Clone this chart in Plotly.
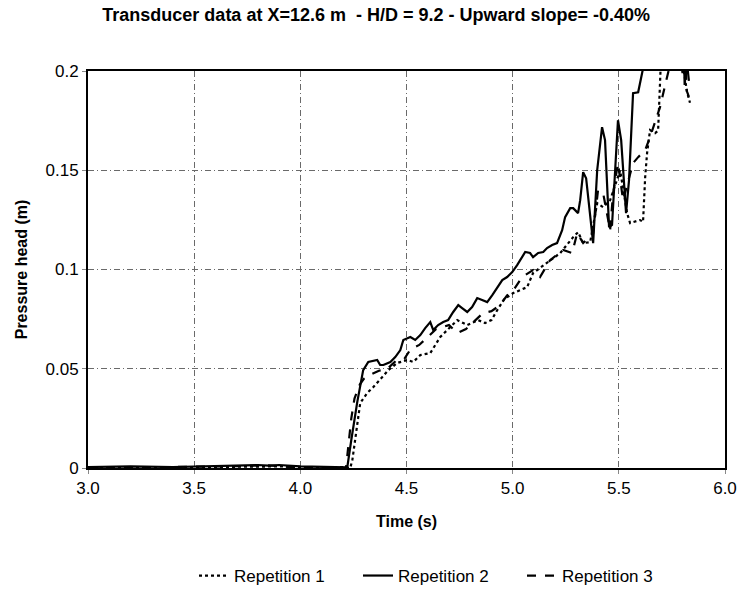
import plotly.graph_objects as go

# ---------------- data ----------------
t_rep1 = [3.00, 3.30, 3.60, 3.80, 3.90, 4.00, 4.10, 4.20, 4.235, 4.245, 4.268, 4.282,
          4.315, 4.344, 4.386, 4.414, 4.456, 4.504, 4.532, 4.565, 4.612, 4.659, 4.692,
          4.739, 4.786, 4.838, 4.870, 4.900, 4.930, 4.960, 5.002, 5.068, 5.096, 5.162,
          5.224, 5.285, 5.308, 5.332, 5.365, 5.398, 5.426, 5.459, 5.506, 5.539, 5.553,
          5.600, 5.614, 5.624, 5.633, 5.647, 5.671, 5.685, 5.700, 5.780, 5.820, 5.835]
h_rep1 = [0.0000, 0.0003, 0.0005, 0.0010, 0.0008, 0.0005, 0.0003, 0.0005, 0.0000, 0.0040,
          0.0227, 0.0327, 0.0378, 0.0408, 0.0458, 0.0493, 0.0529, 0.0544, 0.0534, 0.0569,
          0.0579, 0.0660, 0.0695, 0.0745, 0.0720, 0.0745, 0.0730, 0.0745, 0.0800, 0.0850,
          0.0881, 0.0911, 0.0982, 0.1032, 0.1083, 0.1163, 0.1188, 0.1133, 0.1138, 0.1334,
          0.1314, 0.1349, 0.1500, 0.1284, 0.1234, 0.1249, 0.1240, 0.1465, 0.1586, 0.1702,
          0.1687, 0.1700, 0.2100, 0.2200, 0.1900, 0.1840]

t_rep2 = [3.00, 3.20, 3.40, 3.60, 3.70, 3.80, 3.85, 3.90, 4.00, 4.10, 4.20, 4.221, 4.240,
          4.268, 4.296, 4.320, 4.362, 4.376, 4.391, 4.424, 4.447, 4.471, 4.485, 4.518,
          4.541, 4.565, 4.588, 4.612, 4.626, 4.649, 4.673, 4.696, 4.720, 4.744, 4.762,
          4.786, 4.809, 4.833, 4.856, 4.880, 4.904, 4.927, 4.951, 4.974, 4.998, 5.021,
          5.035, 5.059, 5.082, 5.096, 5.120, 5.144, 5.162, 5.186, 5.209, 5.233, 5.247,
          5.271, 5.285, 5.308, 5.318, 5.332, 5.346, 5.365, 5.379, 5.398, 5.421, 5.435,
          5.454, 5.468, 5.482, 5.496, 5.511, 5.534, 5.548, 5.567, 5.591, 5.614, 5.650,
          5.720, 5.780, 5.800, 5.805, 5.810, 5.820, 5.830]
h_rep2 = [0.0005, 0.0008, 0.0005, 0.0010, 0.0012, 0.0015, 0.0012, 0.0015, 0.0008, 0.0005,
          0.0003, 0.0003, 0.0141, 0.0332, 0.0493, 0.0534, 0.0544, 0.0519, 0.0519, 0.0534,
          0.0559, 0.0594, 0.0645, 0.0660, 0.0645, 0.0670, 0.0705, 0.0735, 0.0695, 0.0720,
          0.0735, 0.0745, 0.0786, 0.0821, 0.0806, 0.0786, 0.0811, 0.0856, 0.0846, 0.0836,
          0.0871, 0.0911, 0.0947, 0.0962, 0.0987, 0.1022, 0.1047, 0.1088, 0.1083, 0.1062,
          0.1083, 0.1088, 0.1108, 0.1123, 0.1133, 0.1198, 0.1264, 0.1309, 0.1309, 0.1284,
          0.1349, 0.1490, 0.1460, 0.1274, 0.1133, 0.1500, 0.1717, 0.1652, 0.1213, 0.1224,
          0.1500, 0.1752, 0.1652, 0.1284, 0.1450, 0.1888, 0.1893, 0.2004, 0.2200, 0.2350,
          0.2150, 0.1990, 0.2150, 0.1930, 0.2050, 0.1950]

t_rep3 = [3.00, 3.50, 3.75, 3.83, 3.95, 4.10, 4.215, 4.225, 4.240, 4.255, 4.280, 4.300,
          4.330, 4.370, 4.410, 4.450, 4.490, 4.520, 4.560, 4.600, 4.640, 4.670, 4.700,
          4.740, 4.780, 4.820, 4.860, 4.900, 4.940, 4.974, 5.000, 5.045, 5.096, 5.129,
          5.176, 5.238, 5.280, 5.304, 5.332, 5.379, 5.402, 5.426, 5.459, 5.473, 5.496,
          5.520, 5.567, 5.591, 5.624, 5.647, 5.694, 5.727, 5.741, 5.780, 5.810, 5.820, 5.830]
h_rep3 = [0.0000, 0.0005, 0.0010, 0.0015, 0.0005, 0.0003, 0.0000, 0.0100, 0.0250, 0.0350,
          0.0420, 0.0450, 0.0470, 0.0490, 0.0500, 0.0540, 0.0550, 0.0600, 0.0620, 0.0660,
          0.0700, 0.0710, 0.0720, 0.0680, 0.0700, 0.0740, 0.0780, 0.0790, 0.0820, 0.0870,
          0.0890, 0.0962, 0.0997, 0.0962, 0.1047, 0.1098, 0.1083, 0.1183, 0.1133, 0.1183,
          0.1400, 0.1385, 0.1198, 0.1385, 0.1536, 0.1349, 0.1536, 0.1566, 0.1601, 0.1667,
          0.1818, 0.1969, 0.2030, 0.2150, 0.2100, 0.1900, 0.1870]

series_names = ["Repetition 1", "Repetition 2", "Repetition 3"]
x_ticks = [3.0, 3.5, 4.0, 4.5, 5.0, 5.5, 6.0]
y_ticks = [0, 0.05, 0.1, 0.15, 0.2]
y_tick_labels = ["0", "0.05", "0.1", "0.15", "0.2"]

title_text = "Transducer data at X=12.6 m  - H/D = 9.2 - Upward slope= -0.40%"

# ---------------- figure ----------------
FONT = "Liberation Sans, Arial, sans-serif"
fig = go.Figure()
styles = [("dot", 2.2), ("solid", 2.2), ("dash", 2.2)]
for (t, h), name, (dash, w) in zip([(t_rep1, h_rep1), (t_rep2, h_rep2), (t_rep3, h_rep3)],
                                   series_names, styles):
    fig.add_trace(go.Scatter(x=t, y=h, mode="lines", name=name,
                             line=dict(color="black", width=w, dash=dash)))

axis_common = dict(
    showline=True, linecolor="black", linewidth=2, mirror=True,
    showgrid=True, gridcolor="#6a6a6a", gridwidth=1, griddash="6px,3px,1px,3px",
    zeroline=False, ticks="outside", ticklen=4, tickcolor="#888888",
    tickfont=dict(family=FONT, size=17, color="black"),
)

fig.update_xaxes(range=[3.0, 6.0], tickvals=x_ticks, tickformat=".1f",
                 title=dict(text="<b>Time (s)</b>", font=dict(family=FONT, size=16, color="black"),
                            standoff=18),
                 **axis_common)
fig.update_yaxes(range=[0, 0.2], tickvals=y_ticks, ticktext=y_tick_labels,
                 title=dict(text="<b>Pressure head (m)</b>",
                            font=dict(family=FONT, size=16, color="black"), standoff=14),
                 **axis_common)

fig.update_layout(
    width=742, height=589,
    margin=dict(l=88, r=17, t=71, b=121, autoexpand=False),
    paper_bgcolor="white", plot_bgcolor="white",
    title=dict(text="<b>" + title_text + "</b>", x=0.507, xanchor="center",
               y=1 - 15 / 589, yanchor="middle",
               font=dict(family=FONT, size=18, color="black")),
    font=dict(family=FONT, color="black"),
    legend=dict(orientation="h", x=(194 - 88) / 637, xanchor="left", y=-0.272, yanchor="middle",
                font=dict(family=FONT, size=17, color="black"),
                bgcolor="rgba(0,0,0,0)", entrywidth=119, entrywidthmode="pixels"),
    showlegend=True,
)

fig.write_html("out.html", config={"displayModeBar": False})
